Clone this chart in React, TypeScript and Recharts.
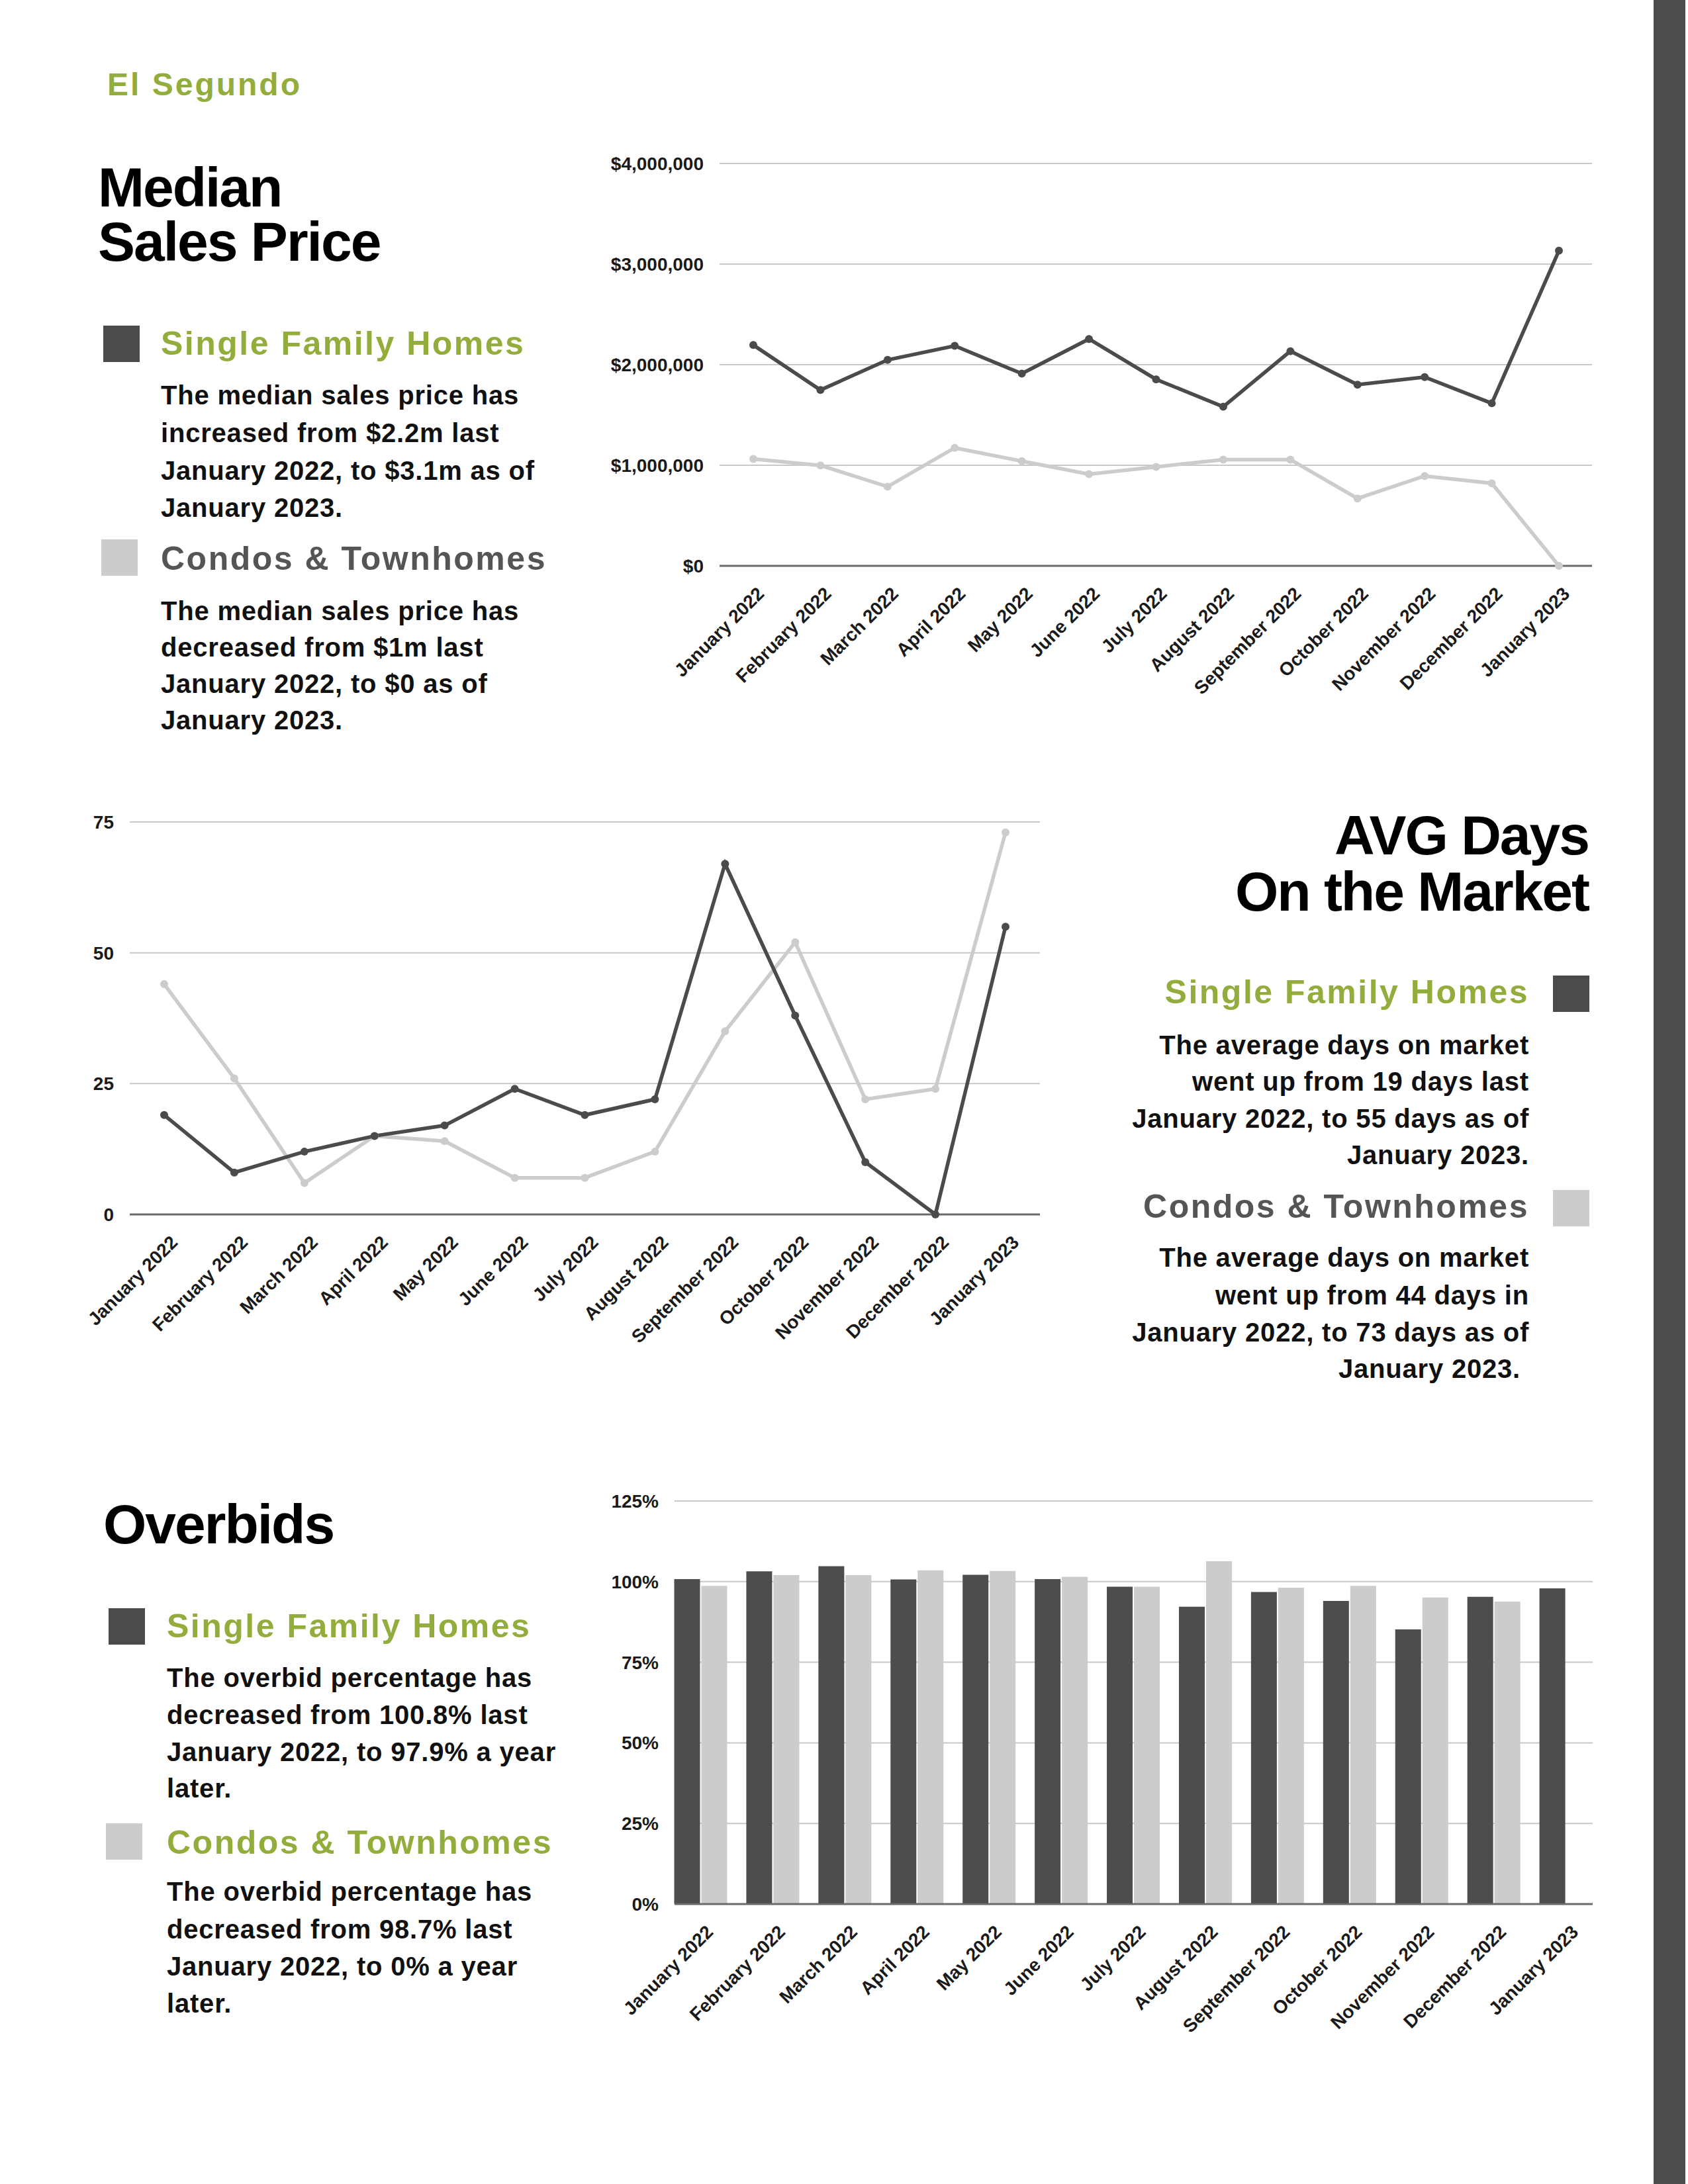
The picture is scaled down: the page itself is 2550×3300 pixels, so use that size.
import React from 'react';
import {
  LineChart,
  Line,
  BarChart,
  Bar,
  XAxis,
  YAxis,
  CartesianGrid,
} from 'recharts';

const months = [
  'January 2022',
  'February 2022',
  'March 2022',
  'April 2022',
  'May 2022',
  'June 2022',
  'July 2022',
  'August 2022',
  'September 2022',
  'October 2022',
  'November 2022',
  'December 2022',
  'January 2023',
];

// Median sales price
const sfhPrice = [2195000, 1748000, 2047000, 2187000, 1911000, 2255000, 1854000, 1582000, 2134000, 1801000, 1877000, 1616000, 3133000];
const condoPrice = [1063000, 999000, 787000, 1173000, 1041000, 912000, 984000, 1056000, 1056000, 670000, 893000, 821000, 0];
const priceTicks = [0, 1000000, 2000000, 3000000, 4000000];

// Avg days on market
const sfhDays = [19, 8, 12, 15, 17, 24, 19, 22, 67, 38, 10, 0, 55];
const condoDays = [44, 26, 6, 15, 14, 7, 7, 12, 35, 52, 22, 24, 73];
const dayTicks = [0, 25, 50, 75];

// Overbid %
const sfhOverbid = [100.8, 103.2, 104.8, 100.7, 102.1, 100.8, 98.4, 92.2, 96.8, 94.0, 85.2, 95.3, 97.9];
const condoOverbid = [98.7, 102.0, 102.0, 103.5, 103.3, 101.5, 98.4, 106.3, 98.1, 98.7, 95.1, 93.8, 0];
const overbidTicks = [0, 25, 50, 75, 100, 125];

const DARK = '#4b4b4b';
const LIGHT = '#cccccc';
const GREEN = '#93ad3c';
const GREY_TXT = '#555555';
const FONT = '"Liberation Sans", Arial, Helvetica, sans-serif';

const priceData = months.map((m, i) => ({ month: m, sfh: sfhPrice[i], condo: condoPrice[i] }));
const daysData = months.map((m, i) => ({ month: m, sfh: sfhDays[i], condo: condoDays[i] }));
const overbidData = months.map((m, i) => ({ month: m, sfh: sfhOverbid[i], condo: condoOverbid[i] }));

const axisTick = { fontSize: 28, fontWeight: 'bold', fill: '#1a1a1a', fontFamily: FONT };

// rotated month label, the end of the text sits a little right of and below the tick
function MonthTick(props: any) {
  const { x, y, payload, dx = 20 } = props;
  return (
    <g transform={`translate(${x + dx},${y + 44})`}>
      <text
        x={0}
        y={0}
        textAnchor="end"
        transform="rotate(-45)"
        fontSize={28}
        fontWeight="bold"
        fill="#1a1a1a"
        fontFamily={FONT}
      >
        {payload.value}
      </text>
    </g>
  );
}

function Heading({ x, y, lines, anchor = 'start' }: { x: number; y: number[]; lines: string[]; anchor?: string }) {
  return (
    <>
      {lines.map((l, i) => (
        <text key={l} x={x} y={y[i]} textAnchor={anchor} fontSize={84} fontWeight="bold" letterSpacing={-2} fill="#000">
          {l}
        </text>
      ))}
    </>
  );
}

function Sub({ x, y, label, color, anchor = 'start' }: { x: number; y: number; label: string; color: string; anchor?: string }) {
  return (
    <text x={x} y={y} textAnchor={anchor} fontSize={50} fontWeight="bold" letterSpacing={2.5} fill={color}>
      {label}
    </text>
  );
}

function Body({ x, y, lines, anchor = 'start' }: { x: number; y: number[]; lines: string[]; anchor?: string }) {
  return (
    <>
      {lines.map((l, i) => (
        <text key={i} x={x} y={y[i]} textAnchor={anchor} fontSize={40} fontWeight="bold" letterSpacing={0.8} fill="#111">
          {l}
        </text>
      ))}
    </>
  );
}

export default function App() {
  return (
    <div style={{ position: 'absolute', left: 0, top: 0, width: 2550, height: 3300, background: '#fff', overflow: 'hidden' }}>
      <svg width={2550} height={3300} style={{ position: 'absolute', left: 0, top: 0 }} fontFamily={FONT}>
        {/* right edge band */}
        <rect x={2498} y={0} width={48} height={3300} fill="#4d4d4d" />

        {/* Median Sales Price */}
        <text x={162} y={144} fontSize={48} fontWeight="bold" letterSpacing={3} fill={GREEN}>
          El Segundo
        </text>
        <Heading x={148} y={[312, 394]} lines={['Median', 'Sales Price']} />
        <rect x={156} y={492} width={55} height={55} fill={DARK} />
        <Sub x={243} y={536} label="Single Family Homes" color={GREEN} />
        <Body
          x={243}
          y={[611, 668, 725, 781]}
          lines={['The median sales price has', 'increased from $2.2m last', 'January 2022, to $3.1m as of', 'January 2023.']}
        />
        <rect x={153} y={815} width={55} height={55} fill={LIGHT} />
        <Sub x={243} y={861} label="Condos & Townhomes" color={GREY_TXT} />
        <Body
          x={243}
          y={[937, 992, 1047, 1102]}
          lines={['The median sales price has', 'decreased from $1m last', 'January 2022, to $0 as of', 'January 2023.']}
        />

        {/* AVG Days On the Market */}
        <Heading x={2400} y={[1291, 1376]} lines={['AVG Days', 'On the Market']} anchor="end" />
        <rect x={2346} y={1474} width={55} height={55} fill={DARK} />
        <Sub x={2310} y={1516} label="Single Family Homes" color={GREEN} anchor="end" />
        <Body
          x={2310}
          y={[1593, 1648, 1704, 1759]}
          anchor="end"
          lines={['The average days on market', 'went up from 19 days last', 'January 2022, to 55 days as of', 'January 2023.']}
        />
        <rect x={2346} y={1798} width={55} height={55} fill={LIGHT} />
        <Sub x={2310} y={1840} label="Condos & Townhomes" color={GREY_TXT} anchor="end" />
        <Body
          x={2310}
          y={[1914, 1971, 2027]}
          anchor="end"
          lines={['The average days on market', 'went up from 44 days in', 'January 2022, to 73 days as of']}
        />
        <Body x={2297} y={[2082]} anchor="end" lines={['January 2023.']} />

        {/* Overbids */}
        <Heading x={156} y={[2332]} lines={['Overbids']} />
        <rect x={164} y={2430} width={55} height={55} fill={DARK} />
        <Sub x={252} y={2474} label="Single Family Homes" color={GREEN} />
        <Body
          x={252}
          y={[2549, 2605, 2661, 2716]}
          lines={['The overbid percentage has', 'decreased from 100.8% last', 'January 2022, to 97.9% a year', 'later.']}
        />
        <rect x={160} y={2755} width={55} height={55} fill={LIGHT} />
        <Sub x={252} y={2801} label="Condos & Townhomes" color={GREEN} />
        <Body
          x={252}
          y={[2872, 2929, 2985, 3041]}
          lines={['The overbid percentage has', 'decreased from 98.7% last', 'January 2022, to 0% a year', 'later.']}
        />
      </svg>

      {/* Median sales price chart */}
      <div style={{ position: 'absolute', left: 880, top: 200 }}>
        <LineChart width={1560} height={900} data={priceData} margin={{ top: 47, right: 35, left: 27, bottom: 0 }}>
          <CartesianGrid vertical={false} stroke="#c8c8c8" strokeWidth={2} />
          <XAxis
            dataKey="month"
            scale="point"
            padding={{ left: 51, right: 50 }}
            height={245}
            interval={0}
            tickSize={0}
            tickMargin={0}
            tickLine={false}
            axisLine={{ stroke: '#6a6a6a', strokeWidth: 3 }}
            tick={<MonthTick dx={18} />}
          />
          <YAxis
            width={180}
            domain={[0, 4000000]}
            ticks={priceTicks}
            tickSize={0}
            tickMargin={24}
            axisLine={false}
            tickLine={false}
            tick={axisTick}
            tickFormatter={(v: number) => '$' + v.toLocaleString('en-US')}
          />
          <Line type="linear" dataKey="condo" stroke={LIGHT} strokeWidth={5.5} dot={{ r: 6, fill: LIGHT, strokeWidth: 0 }} activeDot={false} isAnimationActive={false} />
          <Line type="linear" dataKey="sfh" stroke={DARK} strokeWidth={5.5} dot={{ r: 6, fill: DARK, strokeWidth: 0 }} activeDot={false} isAnimationActive={false} />
        </LineChart>
      </div>

      {/* Avg days on market chart */}
      <div style={{ position: 'absolute', left: 100, top: 1180 }}>
        <LineChart width={1520} height={900} data={daysData} margin={{ top: 62, right: 49, left: 0, bottom: 0 }}>
          <CartesianGrid vertical={false} stroke="#c8c8c8" strokeWidth={2} />
          <XAxis
            dataKey="month"
            scale="point"
            padding={{ left: 52, right: 52 }}
            height={245}
            interval={0}
            tickSize={0}
            tickMargin={0}
            tickLine={false}
            axisLine={{ stroke: '#6a6a6a', strokeWidth: 3 }}
            tick={<MonthTick dx={22} />}
          />
          <YAxis
            width={96}
            domain={[0, 75]}
            ticks={dayTicks}
            tickSize={0}
            tickMargin={24}
            axisLine={false}
            tickLine={false}
            tick={axisTick}
          />
          <Line type="linear" dataKey="condo" stroke={LIGHT} strokeWidth={5.5} dot={{ r: 6, fill: LIGHT, strokeWidth: 0 }} activeDot={false} isAnimationActive={false} />
          <Line type="linear" dataKey="sfh" stroke={DARK} strokeWidth={5.5} dot={{ r: 6, fill: DARK, strokeWidth: 0 }} activeDot={false} isAnimationActive={false} />
        </LineChart>
      </div>

      {/* Overbids chart */}
      <div style={{ position: 'absolute', left: 900, top: 2200 }}>
        <BarChart width={1540} height={900} data={overbidData} margin={{ top: 68, right: 34, left: 0, bottom: 0 }} barSize={39} barGap={2}>
          <CartesianGrid vertical={false} stroke="#c8c8c8" strokeWidth={2} />
          <XAxis
            dataKey="month"
            padding={{ left: -14.5, right: -14.5 }}
            height={223}
            interval={0}
            tickSize={0}
            tickMargin={0}
            tickLine={false}
            axisLine={{ stroke: '#6a6a6a', strokeWidth: 3 }}
            tick={<MonthTick dx={20} />}
          />
          <YAxis
            width={119}
            domain={[0, 125]}
            ticks={overbidTicks}
            tickSize={0}
            tickMargin={24}
            axisLine={false}
            tickLine={false}
            tick={axisTick}
            tickFormatter={(v: number) => v + '%'}
          />
          <Bar dataKey="sfh" fill="#4d4d4d" isAnimationActive={false} />
          <Bar dataKey="condo" fill={LIGHT} isAnimationActive={false} />
        </BarChart>
      </div>
    </div>
  );
}
